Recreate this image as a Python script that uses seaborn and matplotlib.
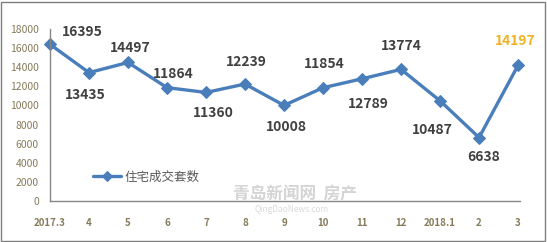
import pandas as pd
import seaborn as sns
import matplotlib.pyplot as plt
from matplotlib.patches import Rectangle

# data
months = ['2017.3', '4', '5', '6', '7', '8', '9', '10', '11', '12', '2018.1', '2', '3']
deals = [16395, 13435, 14497, 11864, 11360, 12239, 10008, 11854, 12789, 13774, 10487, 6638, 14197]
series_name = '住宅成交套数'

# label offsets in pixels (dx, dy) relative to each point
label_offsets = [(32, 12), (-4, -22), (2, 14), (6, 14), (7, -21), (1, 22), (2, -22),
                 (1, 24), (6, -25), (0, 23), (-8, -29), (5, -19), (-3, 24)]

df = pd.DataFrame({'pos': range(len(months)), 'deals': deals, 'series': series_name})

sns.set_style('white')
plt.rcParams['font.family'] = ['Noto Sans CJK SC', 'DejaVu Sans']

line_color = '#4a7ebb'
tick_color = '#857a5a'

fig = plt.figure(figsize=(5.47, 2.42), dpi=100)
ax = fig.add_axes([50 / 547, 1 - 201 / 242, 470 / 547, 172 / 242])

# faint watermark, drawn first so it sits behind
fig.text(295 / 547, 1 - 194 / 242, '青岛新闻网  房产', fontsize=12, color='#d4d4d4',
         fontweight='bold', ha='center', va='center', zorder=0)
fig.text(292 / 547, 1 - 209 / 242, 'QingDaoNews.com', fontsize=6, color='#dadada',
         ha='center', va='center', style='italic', zorder=0)

sns.lineplot(data=df, x='pos', y='deals', hue='series', palette=[line_color],
             marker='D', markersize=6, markeredgecolor=line_color, linewidth=2.4,
             ax=ax, clip_on=False)
ax.patch.set_alpha(0)

ax.set_xlim(0, 12.05)
ax.set_ylim(0, 18000)
ax.set_yticks(range(0, 18001, 2000))
ax.set_xticks(range(len(months)))
ax.set_xticklabels(months)
ax.tick_params(axis='y', labelsize=7.5, colors=tick_color, length=0, pad=8)
ax.tick_params(axis='x', labelsize=7, colors=tick_color, length=0, pad=12)
for lab in ax.get_xticklabels():
    lab.set_fontweight('bold')
ax.set_xlabel('')
ax.set_ylabel('')

for s in ['top', 'right']:
    ax.spines[s].set_visible(False)
for s in ['left', 'bottom']:
    ax.spines[s].set_color('#868686')
    ax.spines[s].set_linewidth(1)

# value labels
for i, v in enumerate(deals):
    dx, dy = label_offsets[i]
    color = '#f0b323' if i == len(deals) - 1 else '#404040'
    ax.annotate(f'{v}', (i, v), xytext=(dx, dy), textcoords='offset pixels',
                ha='center', va='center', fontsize=10, fontweight='bold', color=color)

leg = ax.legend(loc='center left', bbox_to_anchor=(82 / 547, 1 - 177 / 242),
                bbox_transform=fig.transFigure, frameon=False, fontsize=9,
                handlelength=2.2, handletextpad=0.3, markerscale=0.8)
for t in leg.get_texts():
    t.set_color('#595959')

# outer border
fig.patches.append(Rectangle((1 / 547, 1 / 242), 544 / 547, 239 / 242, transform=fig.transFigure,
                             fill=False, edgecolor='#7f7f7f', linewidth=1))

plt.savefig('out.png', dpi=100)
